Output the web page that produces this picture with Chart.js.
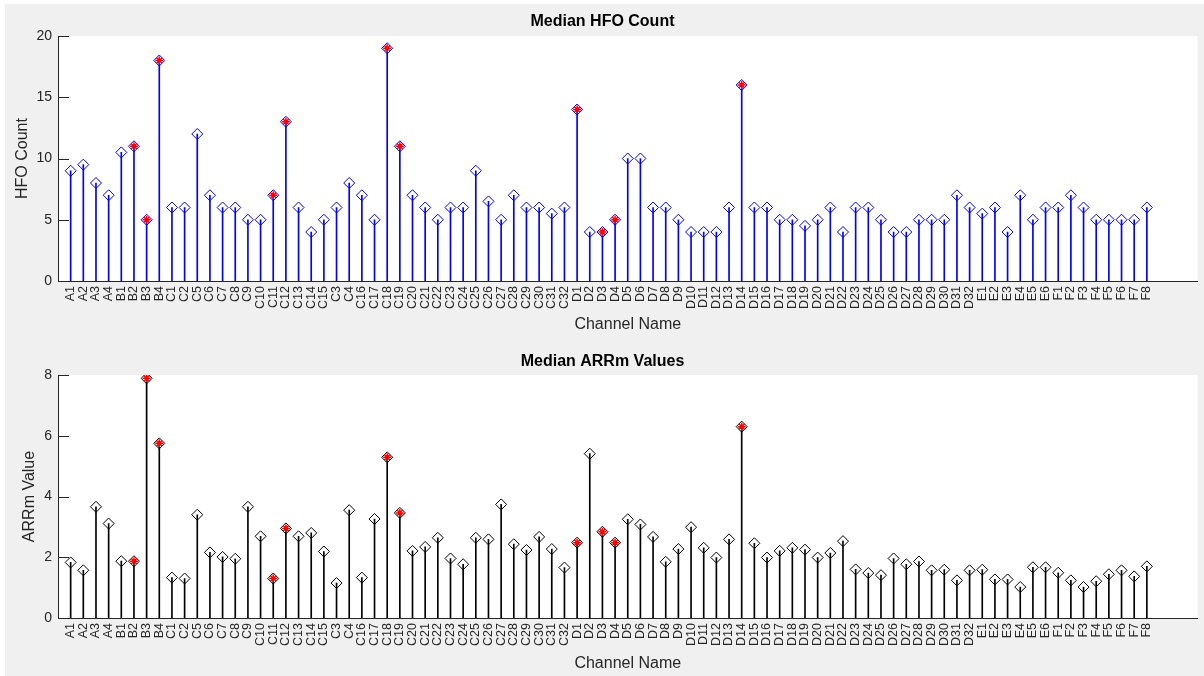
<!DOCTYPE html>
<html>
<head>
<meta charset="utf-8">
<title>Median HFO Count / Median ARRm Values</title>
<script src="https://cdn.jsdelivr.net/npm/chart.js@4.4.1/dist/chart.umd.min.js"></script>
<style>
  html, body { margin: 0; padding: 0; background: #fff; }
  #fig { position: absolute; left: 5px; top: 4px; width: 1199px; height: 672px; background: #f0f0f0; }
  #fig canvas { position: absolute; left: 0; }
</style>
</head>
<body>
<div id="fig">
  <canvas id="hfoChart" width="1199" height="336" style="top:0"></canvas>
  <canvas id="arrmChart" width="1199" height="336" style="top:336px"></canvas>
</div>
<script>
// Channel order as recorded
const channels = [
  'A1', 'A2', 'A3', 'A4', 'B1', 'B2', 'B3', 'B4',
  'C1', 'C2', 'C5', 'C6', 'C7', 'C8', 'C9', 'C10', 'C11', 'C12', 'C13', 'C14', 'C15',
  'C3', 'C4', 'C16', 'C17', 'C18', 'C19', 'C20', 'C21', 'C22', 'C23', 'C24', 'C25',
  'C26', 'C27', 'C28', 'C29', 'C30', 'C31', 'C32',
  'D1', 'D2', 'D3', 'D4', 'D5', 'D6', 'D7', 'D8', 'D9', 'D10', 'D11', 'D12', 'D13',
  'D14', 'D15', 'D16', 'D17', 'D18', 'D19', 'D20', 'D21', 'D22', 'D23', 'D24', 'D25',
  'D26', 'D27', 'D28', 'D29', 'D30', 'D31', 'D32',
  'E1', 'E2', 'E3', 'E4', 'E5', 'E6',
  'F1', 'F2', 'F3', 'F4', 'F5', 'F6', 'F7', 'F8'
];

// Median HFO count per channel
const hfoCount = [
  9, 9.5, 8, 7, 10.5, 11, 5, 18,
  6, 6, 12, 7, 6, 6, 5, 5, 7, 13, 6, 4, 5,
  6, 8, 7, 5, 19, 11, 7, 6, 5, 6, 6, 9,
  6.5, 5, 7, 6, 6, 5.5, 6,
  14, 4, 4, 5, 10, 10, 6, 6, 5, 4, 4, 4, 6,
  16, 6, 6, 5, 5, 4.5, 5, 6, 4, 6, 6, 5,
  4, 4, 5, 5, 5, 7, 6,
  5.5, 6, 4, 7, 5, 6,
  6, 7, 6, 5, 5, 5, 5, 6
];

// Median ARRm value per channel
const arrmValues = [
  1.83, 1.57, 3.66, 3.11, 1.87, 1.87, 7.89, 5.75,
  1.33, 1.30, 3.40, 2.16, 2.01, 1.95, 3.66, 2.69, 1.30, 2.95, 2.69, 2.80, 2.19,
  1.15, 3.55, 1.33, 3.26, 5.29, 3.46, 2.21, 2.34, 2.64, 1.96, 1.77, 2.64,
  2.59, 3.74, 2.43, 2.24, 2.67, 2.27, 1.66,
  2.48, 5.41, 2.84, 2.48, 3.25, 3.08, 2.67, 1.85, 2.27, 2.99, 2.31, 1.99, 2.59,
  6.30, 2.46, 1.99, 2.21, 2.31, 2.25, 1.99, 2.14, 2.53, 1.60, 1.48, 1.41,
  1.96, 1.77, 1.86, 1.57, 1.59, 1.24, 1.57,
  1.59, 1.27, 1.27, 1.02, 1.67, 1.67,
  1.49, 1.24, 1.02, 1.21, 1.44, 1.57, 1.37, 1.70
];

// Channels marked with a red star
const flaggedChannels = ['B2', 'B3', 'B4', 'C11', 'C12', 'C18', 'C19', 'D1', 'D3', 'D4', 'D14'];

const hfoTicks = [0, 5, 10, 15, 20];
const arrmTicks = [0, 2, 4, 6, 8];

const axisColor = '#262626';
const fontFamily = "'Liberation Sans', Arial, Helvetica, sans-serif";

// White plot area and inward y ticks
const axesBox = {
  id: 'axesBox',
  beforeDraw(chart) {
    const { ctx, chartArea: a } = chart;
    ctx.save();
    ctx.fillStyle = '#fff';
    ctx.fillRect(a.left, a.top, a.right - a.left, a.bottom - a.top);
    ctx.restore();
  },
  afterDraw(chart) {
    const { ctx, chartArea: a } = chart;
    const y = chart.scales.y;
    ctx.save();
    ctx.strokeStyle = axisColor;
    ctx.lineWidth = 1;
    ctx.beginPath();
    y.ticks.forEach((t, i) => {
      const py = Math.round(y.getPixelForTick(i)) + 0.5;
      ctx.moveTo(a.left, py);
      ctx.lineTo(a.left + 11, py);
    });
    ctx.stroke();
    ctx.restore();
  }
};

function stemChart(id, values, o) {
  const points = channels.map((c, i) => ({ x: i + 1, y: values[i] }));
  const flagged = points.filter((p, i) => flaggedChannels.includes(channels[i]));

  return new Chart(document.getElementById(id), {
    type: 'bar',
    data: {
      datasets: [
        { type: 'bar', data: points, backgroundColor: o.color, barThickness: 1, order: 3 },
        {
          type: 'line', data: points, showLine: false, order: 2,
          pointStyle: 'rectRot', pointRadius: 5.5, pointBorderWidth: 1,
          pointBorderColor: o.color, pointBackgroundColor: 'rgba(0,0,0,0)'
        },
        {
          type: 'line', data: flagged, showLine: false, order: 1,
          pointStyle: 'star', pointRadius: 4, pointBorderWidth: 1.5,
          pointBorderColor: '#ff0000', pointBackgroundColor: '#ff0000'
        }
      ]
    },
    options: {
      responsive: false,
      animation: false,
      layout: { padding: { left: 0, right: 4, top: 0, bottom: 0 } },
      plugins: {
        legend: { display: false },
        tooltip: { enabled: false },
        title: {
          display: true, text: o.title, color: '#000',
          font: { family: fontFamily, size: 16, weight: 'bold' },
          padding: o.titlePad
        }
      },
      scales: {
        x: {
          type: 'linear', min: 0, max: 90, offset: false,
          grid: { display: false, drawTicks: false, offset: false },
          border: { color: axisColor, width: 1 },
          afterBuildTicks: s => { s.ticks = channels.map((c, i) => ({ value: i + 1 })); },
          afterFit: s => { s.height = o.xHeight; },
          ticks: {
            autoSkip: false, minRotation: 90, maxRotation: 90, padding: 5,
            color: axisColor, font: { family: fontFamily, size: 12.5 },
            callback: v => channels[v - 1]
          },
          title: {
            display: true, text: 'Channel Name', color: axisColor,
            font: { family: fontFamily, size: 16 },
            padding: { top: 0, bottom: o.xTitleBottom }
          }
        },
        y: {
          min: 0, max: o.yTicks[o.yTicks.length - 1],
          grid: { display: false, drawTicks: false },
          border: { color: axisColor, width: 1 },
          afterBuildTicks: s => { s.ticks = o.yTicks.map(v => ({ value: v })); },
          afterFit: s => { s.width = 53; },
          ticks: { padding: 6, color: axisColor, font: { family: fontFamily, size: 14 } },
          title: {
            display: true, text: o.yTitle, color: axisColor,
            font: { family: fontFamily, size: 16 },
            padding: { top: o.yTitleTop, bottom: 0 }
          }
        }
      }
    },
    plugins: [axesBox]
  });
}

stemChart('hfoChart', hfoCount, {
  title: 'Median HFO Count', yTitle: 'HFO Count', color: '#0000ff', yTicks: hfoTicks,
  titlePad: { top: 8.4, bottom: 4.4 }, xHeight: 59, xTitleBottom: 5.4, yTitleTop: 8.4
});

stemChart('arrmChart', arrmValues, {
  title: 'Median ARRm Values', yTitle: 'ARRm Value', color: '#000000', yTicks: arrmTicks,
  titlePad: { top: 12.1, bottom: 3.7 }, xHeight: 58, xTitleBottom: 2.4, yTitleTop: 15.1
});
</script>
</body>
</html>
